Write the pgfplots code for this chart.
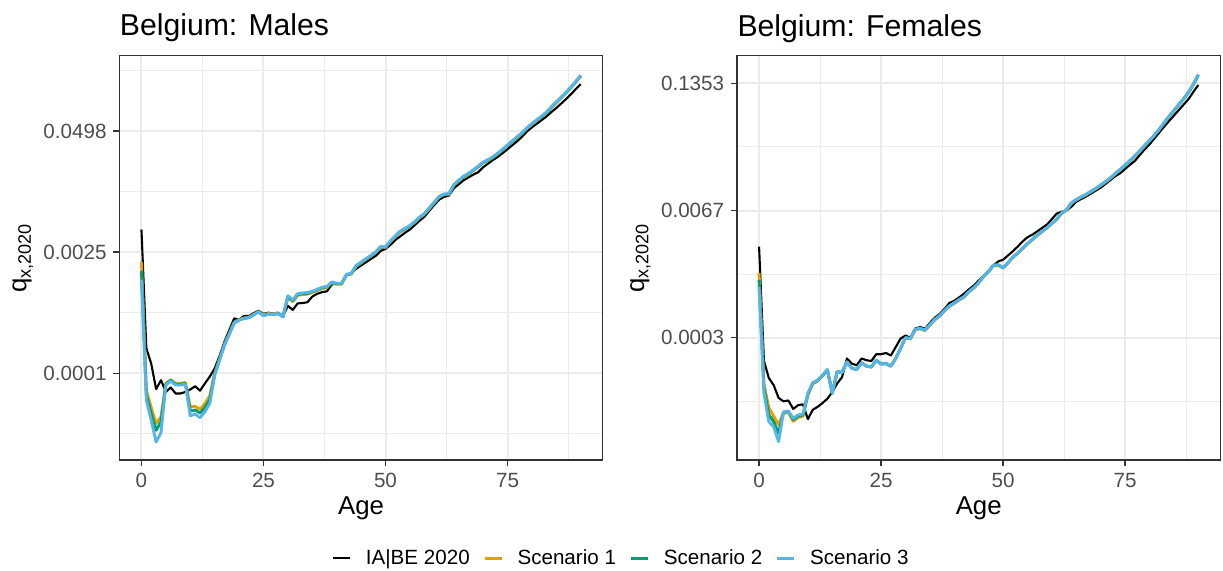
\documentclass[border=0pt]{standalone}
\usepackage{fontspec}
\setmainfont{Liberation Sans}
\usepackage{pgfplots}
\pgfplotsset{compat=1.18}
\usepackage{pgfplotstable}

\definecolor{sOne}{HTML}{E69F00}
\definecolor{sTwo}{HTML}{009E73}
\definecolor{sThree}{HTML}{56B4E9}
\definecolor{gridc}{HTML}{EBEBEB}
\definecolor{framec}{HTML}{333333}
\definecolor{tickc}{HTML}{4D4D4D}

% log mortality rates ln(q_x,2020) by age
\pgfplotstableread{
age iabe s1 s2 s3
0 -5.44 -6.24 -6.46 -6.69
1 -8.38 -9.42 -9.54 -9.66
2 -8.76 -9.85 -10.00 -10.16
3 -9.39 -10.24 -10.41 -10.70
4 -9.17 -10.08 -10.20 -10.47
5 -9.46 -9.25 -9.27 -9.29
6 -9.35 -9.16 -9.17 -9.19
7 -9.50 -9.25 -9.27 -9.29
8 -9.50 -9.25 -9.27 -9.29
9 -9.46 -9.23 -9.25 -9.27
10 -9.40 -9.83 -9.93 -10.05
11 -9.32 -9.82 -9.91 -10.01
12 -9.43 -9.89 -9.98 -10.10
13 -9.25 -9.75 -9.85 -9.95
14 -9.08 -9.55 -9.65 -9.75
15 -8.88 -9.00 -9.02 -9.05
16 -8.57 -8.64 -8.66 -8.67
17 -8.22 -8.28 -8.29 -8.30
18 -7.93 -8.01 -8.02 -8.03
19 -7.64 -7.74 -7.75 -7.75
20 -7.67 -7.67 -7.68 -7.68
21 -7.58 -7.63 -7.64 -7.64
22 -7.58 -7.61 -7.62 -7.62
23 -7.51 -7.54 -7.55 -7.55
24 -7.45 -7.47 -7.48 -7.48
25 -7.53 -7.56 -7.57 -7.57
26 -7.50 -7.52 -7.53 -7.53
27 -7.52 -7.53 -7.54 -7.54
28 -7.50 -7.51 -7.52 -7.52
29 -7.58 -7.59 -7.60 -7.60
30 -7.33 -7.12 -7.10 -7.08
31 -7.43 -7.22 -7.20 -7.18
32 -7.27 -7.07 -7.05 -7.03
33 -7.26 -7.05 -7.03 -7.01
34 -7.24 -7.04 -7.02 -7.00
35 -7.10 -7.00 -6.98 -6.97
36 -7.03 -6.95 -6.93 -6.92
37 -6.99 -6.90 -6.88 -6.87
38 -6.97 -6.88 -6.86 -6.85
39 -6.80 -6.76 -6.75 -6.74
40 -6.78 -6.79 -6.78 -6.77
41 -6.77 -6.79 -6.78 -6.77
42 -6.57 -6.57 -6.56 -6.55
43 -6.52 -6.54 -6.53 -6.52
44 -6.41 -6.35 -6.34 -6.33
45 -6.33 -6.27 -6.26 -6.25
46 -6.25 -6.18 -6.17 -6.16
47 -6.17 -6.10 -6.09 -6.08
48 -6.09 -6.01 -6.00 -5.99
49 -5.97 -5.88 -5.87 -5.86
50 -5.92 -5.89 -5.88 -5.87
51 -5.82 -5.74 -5.73 -5.72
52 -5.70 -5.62 -5.61 -5.60
53 -5.61 -5.50 -5.49 -5.48
54 -5.52 -5.43 -5.42 -5.41
55 -5.44 -5.36 -5.35 -5.34
56 -5.33 -5.26 -5.25 -5.24
57 -5.22 -5.15 -5.14 -5.13
58 -5.12 -5.06 -5.05 -5.04
59 -4.97 -4.92 -4.91 -4.90
60 -4.83 -4.78 -4.77 -4.76
61 -4.70 -4.64 -4.63 -4.62
62 -4.63 -4.58 -4.57 -4.56
63 -4.60 -4.57 -4.56 -4.55
64 -4.42 -4.35 -4.34 -4.33
65 -4.32 -4.24 -4.23 -4.22
66 -4.22 -4.14 -4.13 -4.12
67 -4.15 -4.07 -4.06 -4.05
68 -4.08 -3.98 -3.97 -3.96
69 -4.02 -3.89 -3.88 -3.87
70 -3.90 -3.79 -3.78 -3.77
71 -3.81 -3.73 -3.72 -3.71
72 -3.72 -3.66 -3.65 -3.64
73 -3.64 -3.57 -3.56 -3.55
74 -3.55 -3.47 -3.46 -3.45
75 -3.45 -3.37 -3.36 -3.35
76 -3.35 -3.26 -3.25 -3.24
77 -3.25 -3.16 -3.15 -3.14
78 -3.14 -3.06 -3.05 -3.04
79 -3.01 -2.94 -2.93 -2.92
80 -2.91 -2.84 -2.83 -2.82
81 -2.82 -2.74 -2.73 -2.72
82 -2.73 -2.65 -2.64 -2.63
83 -2.64 -2.55 -2.54 -2.53
84 -2.53 -2.42 -2.41 -2.40
85 -2.43 -2.30 -2.29 -2.28
86 -2.32 -2.18 -2.17 -2.16
87 -2.21 -2.06 -2.05 -2.04
88 -2.09 -1.93 -1.92 -1.91
89 -1.96 -1.79 -1.78 -1.77
90 -1.84 -1.64 -1.63 -1.62
}\males

\pgfplotstableread{
age iabe s1 s2 s3
0 -5.85 -6.47 -6.64 -6.80
1 -8.55 -9.10 -9.20 -9.31
2 -8.95 -9.65 -9.82 -9.98
3 -9.12 -9.85 -9.98 -10.10
4 -9.42 -10.05 -10.25 -10.45
5 -9.50 -9.78 -9.76 -9.75
6 -9.48 -9.76 -9.74 -9.73
7 -9.68 -9.97 -9.93 -9.90
8 -9.59 -9.88 -9.85 -9.82
9 -9.57 -9.85 -9.82 -9.80
10 -9.92 -9.35 -9.33 -9.31
11 -9.70 -9.09 -9.07 -9.06
12 -9.63 -9.02 -9.01 -9.00
13 -9.54 -8.90 -8.89 -8.88
14 -9.44 -8.77 -8.76 -8.75
15 -9.28 -9.30 -9.31 -9.31
16 -9.08 -8.80 -8.80 -8.80
17 -8.93 -8.82 -8.82 -8.82
18 -8.49 -8.57 -8.57 -8.57
19 -8.61 -8.72 -8.72 -8.72
20 -8.65 -8.75 -8.75 -8.75
21 -8.49 -8.59 -8.59 -8.59
22 -8.53 -8.67 -8.67 -8.67
23 -8.55 -8.69 -8.69 -8.69
24 -8.39 -8.53 -8.53 -8.53
25 -8.39 -8.62 -8.62 -8.62
26 -8.36 -8.61 -8.61 -8.61
27 -8.42 -8.67 -8.67 -8.67
28 -8.22 -8.49 -8.49 -8.49
29 -8.02 -8.25 -8.25 -8.25
30 -7.95 -8.00 -8.00 -8.00
31 -8.00 -8.03 -8.02 -8.02
32 -7.78 -7.81 -7.80 -7.80
33 -7.75 -7.79 -7.78 -7.78
34 -7.79 -7.83 -7.82 -7.82
35 -7.65 -7.70 -7.69 -7.69
36 -7.53 -7.58 -7.57 -7.57
37 -7.44 -7.49 -7.48 -7.48
38 -7.32 -7.37 -7.36 -7.36
39 -7.18 -7.26 -7.25 -7.25
40 -7.13 -7.19 -7.18 -7.18
41 -7.05 -7.11 -7.10 -7.10
42 -6.96 -7.04 -7.03 -7.03
43 -6.86 -6.92 -6.91 -6.91
44 -6.77 -6.83 -6.82 -6.82
45 -6.65 -6.71 -6.70 -6.70
46 -6.55 -6.56 -6.55 -6.55
47 -6.44 -6.45 -6.44 -6.44
48 -6.30 -6.30 -6.29 -6.29
49 -6.20 -6.29 -6.28 -6.28
50 -6.16 -6.36 -6.35 -6.35
51 -6.06 -6.24 -6.23 -6.23
52 -5.96 -6.11 -6.10 -6.10
53 -5.85 -6.01 -6.00 -6.00
54 -5.73 -5.90 -5.89 -5.89
55 -5.63 -5.79 -5.78 -5.78
56 -5.57 -5.69 -5.68 -5.68
57 -5.49 -5.59 -5.58 -5.58
58 -5.41 -5.50 -5.49 -5.49
59 -5.33 -5.41 -5.40 -5.40
60 -5.20 -5.31 -5.30 -5.30
61 -5.07 -5.21 -5.20 -5.20
62 -5.03 -5.07 -5.06 -5.06
63 -5.00 -4.99 -4.98 -4.98
64 -4.91 -4.83 -4.82 -4.82
65 -4.79 -4.75 -4.74 -4.74
66 -4.73 -4.69 -4.68 -4.68
67 -4.67 -4.63 -4.62 -4.62
68 -4.60 -4.56 -4.55 -4.55
69 -4.53 -4.49 -4.48 -4.48
70 -4.46 -4.41 -4.40 -4.40
71 -4.37 -4.33 -4.32 -4.32
72 -4.28 -4.24 -4.23 -4.23
73 -4.19 -4.14 -4.13 -4.13
74 -4.12 -4.04 -4.03 -4.03
75 -4.02 -3.94 -3.93 -3.93
76 -3.92 -3.83 -3.82 -3.82
77 -3.83 -3.72 -3.71 -3.71
78 -3.69 -3.60 -3.59 -3.59
79 -3.56 -3.48 -3.47 -3.47
80 -3.44 -3.36 -3.35 -3.35
81 -3.30 -3.23 -3.22 -3.22
82 -3.16 -3.09 -3.08 -3.08
83 -3.02 -2.94 -2.93 -2.93
84 -2.89 -2.79 -2.78 -2.78
85 -2.76 -2.65 -2.64 -2.64
86 -2.63 -2.51 -2.50 -2.50
87 -2.50 -2.37 -2.36 -2.36
88 -2.37 -2.22 -2.21 -2.21
89 -2.20 -2.03 -2.02 -2.01
90 -2.04 -1.81 -1.80 -1.79
}\females

\pgfplotsset{
  panel/.style={
    scale only axis,
    width=241.6bp, height=202.15bp,
    xmin=-4.5, xmax=94.5,
    xtick={0,25,50,75}, xticklabels={0,25,50,75},
    minor xtick={12.5,37.5,62.5,87.5},
    grid=both,
    major grid style={draw=gridc, line width=1bp},
    minor grid style={draw=gridc, line width=0.5bp},
    axis line style={draw=framec, line width=0.7bp},
    every tick/.style={draw=framec, line width=0.7bp},
    major tick length=3.2bp, minor tick length=0pt,
    tick align=outside, tick pos=left,
    /pgf/number format/assume math mode=true,
    ticklabel style={font=\fontsize{10.3bp}{12bp}\selectfont, text=tickc},
    xticklabel style={anchor=north, inner sep=0pt, yshift=-3.4bp},
    yticklabel style={anchor=east, inner sep=0pt, xshift=-3.1bp},
    xlabel=Age,
    xlabel style={at={(axis description cs:0.5,0)}, anchor=base, yshift=-27.25bp,
      inner sep=0pt, font=\fontsize{12.9bp}{15bp}\selectfont},
    ylabel={q\textsubscript{x,2020}},
    ylabel style={at={(axis description cs:-0.1925,0.5)}, anchor=base,
      inner sep=0pt, font=\fontsize{12.9bp}{15bp}\selectfont},
    every axis title shift=0pt,
    title style={at={(axis description cs:0,1)}, anchor=base west, yshift=9.85bp,
      inner sep=0pt, font=\fontsize{15.1bp}{18bp}\selectfont},
    legend image code/.code={\draw[##1] (0bp,-0.3bp) -- (8.5bp,-0.3bp);},
    every axis plot/.append style={line join=round},
    iabe/.style={black, line width=1.05bp},
    sc1/.style={sOne, line width=1.45bp},
    sc2/.style={sTwo, line width=1.45bp},
    sc3/.style={sThree, line width=1.45bp},
  }
}

\begin{document}
\begin{tikzpicture}
\useasboundingbox (0,0) rectangle (611.5bp,285.5bp);

\begin{axis}[panel, at={(59.75bp,55.5bp)}, anchor=south west,
  title={Belgium: Males},
  ymin=-11.146, ymax=-1.136,
  ytick={-9,-6,-3}, yticklabels={0.0001,0.0025,0.0498},
  minor ytick={-10.5,-7.5,-4.5,-1.5},
  legend columns=4,
  legend style={at={(axis description cs:0.4404,-0.2415)}, anchor=west,
    draw=none, fill=none, inner sep=0pt, outer sep=0pt,
    font=\fontsize{10.3bp}{12bp}\selectfont,
    nodes={inner sep=0pt, text height=0.716em, text depth=0pt},
    /tikz/every odd column/.append style={column sep=7.25bp},
    /tikz/every even column/.append style={column sep=6.7bp}},
  legend cell align=left,
]
\addplot[iabe] table[x=age, y=iabe] {\males};
\addlegendentry{IA|BE 2020}
\addplot[sc1] table[x=age, y=s1] {\males};
\addlegendentry{Scenario 1}
\addplot[sc2] table[x=age, y=s2] {\males};
\addlegendentry{Scenario 2}
\addplot[sc3] table[x=age, y=s3] {\males};
\addlegendentry{Scenario 3}
\end{axis}

\begin{axis}[panel, at={(368.55bp,55.5bp)}, anchor=south west,
  title={Belgium: Females},
  ymin=-10.884, ymax=-1.349,
  ytick={-8,-5,-2}, yticklabels={0.0003,0.0067,0.1353},
  minor ytick={-9.5,-6.5,-3.5},
]
\addplot[iabe] table[x=age, y=iabe] {\females};
\addplot[sc1] table[x=age, y=s1] {\females};
\addplot[sc2] table[x=age, y=s2] {\females};
\addplot[sc3] table[x=age, y=s3] {\females};
\end{axis}
\end{tikzpicture}
\end{document}
